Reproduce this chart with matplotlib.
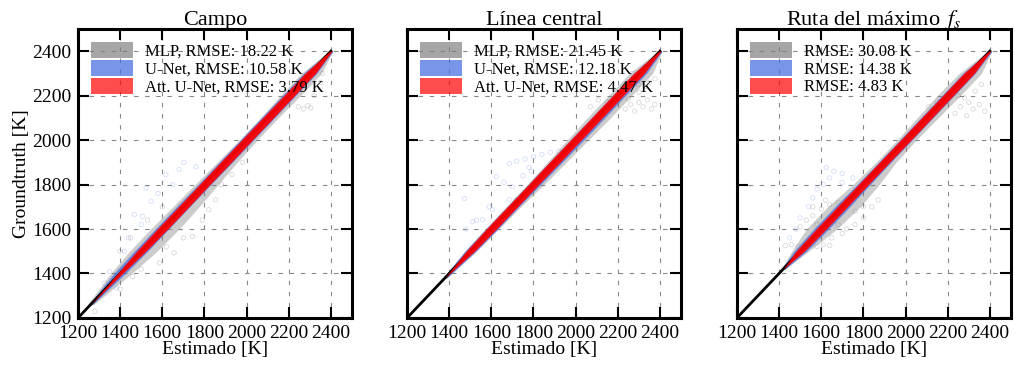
import numpy as np
import matplotlib.pyplot as plt
from matplotlib.patches import Patch

plt.rcParams['font.family'] = ['Liberation Serif', 'DejaVu Serif']
plt.rcParams['mathtext.fontset'] = 'stix'

titles = ['Campo', 'Línea central', r'Ruta del máximo $\,f_s$']
models = ['MLP', 'U-Net', 'Att. U-Net']
rmse = [[18.22, 10.58, 3.79], [21.45, 12.18, 4.47], [30.08, 14.38, 4.83]]
show_names = [True, True, False]
colors = ['gray', 'royalblue', 'red']

# core of each cloud: groundtruth levels and (estimated - groundtruth) spread [K]
gt_campo = [1260, 1400, 1500, 1600, 1700, 1800, 1900, 2000, 2100, 2200, 2300, 2400]
mlp_lo_campo = [-15, -45, -55, -55, -50, -45, -40, -35, -35, -40, -40, -10]
mlp_hi_campo = [15, 55, 75, 80, 75, 65, 55, 50, 50, 55, 55, 10]
unet_lo_campo = [-8, -30, -33, -33, -33, -30, -30, -30, -30, -30, -30, -8]
unet_hi_campo = [8, 25, 30, 30, 30, 30, 32, 32, 32, 32, 32, 10]
att_lo_campo = [0, -12, -22, -24, -24, -24, -24, -24, -24, -24, -24, -5]
att_hi_campo = [0, 12, 22, 26, 26, 26, 27, 27, 27, 27, 27, 5]

gt_linea = [1380, 1500, 1600, 1700, 1800, 1900, 2000, 2100, 2200, 2300, 2400]
mlp_lo_linea = [-10, -25, -30, -30, -30, -35, -40, -45, -45, -45, -10]
mlp_hi_linea = [10, 30, 35, 40, 50, 55, 60, 65, 65, 65, 10]
unet_lo_linea = [-8, -26, -26, -26, -26, -26, -26, -26, -26, -26, -8]
unet_hi_linea = [8, 26, 30, 30, 33, 36, 38, 38, 36, 36, 10]
att_lo_linea = [0, -20, -24, -24, -24, -25, -25, -25, -25, -25, -5]
att_hi_linea = [0, 20, 24, 24, 24, 26, 26, 26, 26, 26, 5]

gt_ruta = [1420, 1500, 1600, 1700, 1800, 1900, 2000, 2100, 2200, 2300, 2400]
mlp_lo_ruta = [-10, -40, -70, -70, -50, -40, -40, -45, -50, -45, -10]
mlp_hi_ruta = [10, 40, 75, 85, 75, 55, 50, 55, 60, 60, 10]
unet_lo_ruta = [-8, -30, -35, -35, -30, -28, -28, -28, -28, -28, -8]
unet_hi_ruta = [8, 30, 35, 35, 32, 30, 30, 30, 30, 30, 10]
att_lo_ruta = [0, -20, -24, -24, -24, -24, -24, -24, -24, -24, -5]
att_hi_ruta = [0, 20, 24, 24, 24, 24, 26, 26, 26, 26, 5]

# scattered points outside the core: estimated, groundtruth [K]
mlp_est_campo = [1853, 1821, 1743, 1656, 1586, 1930, 1459, 1700, 1790, 1620, 1500, 1400, 1280,
                 1400, 1450, 1530, 1600, 2245, 2270, 2290, 2305, 2320, 2350, 2360, 1880, 1980]
mlp_gt_campo = [1732, 1687, 1567, 1493, 1448, 1845, 1386, 1560, 1640, 1520, 1420, 1330, 1230,
                1500, 1560, 1640, 1700, 2150, 2140, 2155, 2145, 2200, 2260, 2300, 1800, 1900]
unet_est_campo = [1703, 1617, 1523, 1468, 1506, 1547, 1680, 1382, 1327, 1440, 1580, 1650,
                  1760, 1500, 1420, 1350]
unet_gt_campo = [1900, 1845, 1785, 1665, 1657, 1725, 1868, 1335, 1357, 1560, 1760, 1800,
                 1880, 1620, 1500, 1410]

mlp_est_linea = [2235, 2260, 2280, 2300, 2320, 2340, 2360, 2376, 2250, 2300, 2330, 2350,
                 2376, 2296, 2200, 2070, 2108, 2150, 2270, 2330]
mlp_gt_linea = [2140, 2160, 2130, 2170, 2150, 2180, 2140, 2160, 2185, 2215, 2240, 2260,
                2275, 2250, 2200, 2150, 2180, 2170, 2300, 2330]
unet_est_linea = [1473, 1511, 1558, 1605, 1685, 1624, 1660, 1700, 1718, 1685, 1720, 1760,
                  1800, 1840, 1880, 1920, 1779, 1750, 1790, 1530, 1480, 1590]
unet_gt_linea = [1737, 1633, 1642, 1687, 1732, 1836, 1810, 1790, 1732, 1895, 1905, 1915,
                 1925, 1935, 1945, 1950, 1877, 1840, 1860, 1640, 1600, 1700]

mlp_est_ruta = [1430, 1460, 1490, 1520, 1550, 1580, 1610, 1640,
                1500, 1530, 1560, 1600, 1640, 1680, 1720, 1560, 1620, 1580,
                1720, 1760, 1800, 1840, 1870, 1760, 1700, 1650, 1800, 1680,
                2235, 2260, 2290, 2320, 2350, 2376, 2280, 2330, 2360, 2300, 2250, 2110, 2150]
mlp_gt_ruta = [1525, 1530, 1520, 1528, 1532, 1522, 1530, 1526,
               1610, 1640, 1660, 1690, 1710, 1720, 1735, 1700, 1730, 1620,
               1600, 1620, 1650, 1700, 1730, 1680, 1580, 1560, 1700, 1620,
               2120, 2150, 2110, 2140, 2160, 2130, 2190, 2220, 2250, 2170, 2200, 2150, 2170]
unet_est_ruta = [1624, 1660, 1699, 1640, 1580, 1540, 1500, 1560, 1610, 1700, 1750, 1480, 1450]
unet_gt_ruta = [1877, 1860, 1809, 1830, 1780, 1700, 1650, 1740, 1800, 1850, 1830, 1600, 1560]

panels = [
    (gt_campo, [(mlp_lo_campo, mlp_hi_campo), (unet_lo_campo, unet_hi_campo), (att_lo_campo, att_hi_campo)],
     [(mlp_est_campo, mlp_gt_campo), (unet_est_campo, unet_gt_campo)]),
    (gt_linea, [(mlp_lo_linea, mlp_hi_linea), (unet_lo_linea, unet_hi_linea), (att_lo_linea, att_hi_linea)],
     [(mlp_est_linea, mlp_gt_linea), (unet_est_linea, unet_gt_linea)]),
    (gt_ruta, [(mlp_lo_ruta, mlp_hi_ruta), (unet_lo_ruta, unet_hi_ruta), (att_lo_ruta, att_hi_ruta)],
     [(mlp_est_ruta, mlp_gt_ruta), (unet_est_ruta, unet_gt_ruta)]),
]

fig = plt.figure(figsize=(10.15, 3.71), dpi=100)
lefts = [0.0768, 0.401, 0.726]
band_alpha = [0.4, 0.7, 0.92]
dot_alpha = [0.3, 0.22]

for i, (gt, bands, scat) in enumerate(panels):
    ax = fig.add_axes([lefts[i], 0.143, 0.270, 0.779])
    gt = np.array(gt)
    for k in range(3):
        lo, hi = bands[k]
        if k < 2:
            est, g = scat[k]
            ax.scatter(est, g, s=10, facecolors='none', edgecolors=colors[k],
                       alpha=dot_alpha[k], linewidths=0.6, zorder=2 + k)
        ax.fill_betweenx(gt, gt + np.array(lo), gt + np.array(hi), color=colors[k],
                         alpha=band_alpha[k], lw=0, zorder=2 + k)
    # ideal line sits under the Att. U-Net cloud
    ax.plot([1200, 2400], [1200, 2400], color='black', lw=2, zorder=3.5)

    ax.set_xlim(1200, 2500)
    ax.set_ylim(1200, 2500)
    ticks = [1200, 1400, 1600, 1800, 2000, 2200, 2400]
    ax.set_xticks(ticks)
    ax.set_yticks(ticks)
    if i > 0:
        ax.set_yticklabels([])
    else:
        ax.set_ylabel('Groundtruth [K]', fontsize=14, labelpad=1)
    ax.set_xlabel('Estimado [K]', fontsize=14, labelpad=-1)
    ax.set_title(titles[i], fontsize=16, pad=3)
    ax.tick_params(direction='in', length=8, width=1.5, top=True, right=True,
                   labelsize=14, pad=5)
    for sp in ax.spines.values():
        sp.set_linewidth(2.2)
    ax.grid(True, color='#888888', ls=(0, (4, 6)), lw=0.8)
    ax.set_axisbelow(True)

    handles = []
    labels = []
    for k in range(3):
        handles.append(Patch(facecolor=colors[k], alpha=0.7, lw=0))
        if show_names[i]:
            labels.append(f'{models[k]}, RMSE: {rmse[i][k]:.2f} K')
        else:
            labels.append(f'RMSE: {rmse[i][k]:.2f} K')
    ax.legend(handles, labels, loc='upper left', frameon=False, fontsize=12,
              handlelength=2.5, handleheight=1.1, labelspacing=0.0,
              handletextpad=0.7, borderaxespad=0.3, borderpad=0.5)

fig.savefig('out.png', dpi=100)
